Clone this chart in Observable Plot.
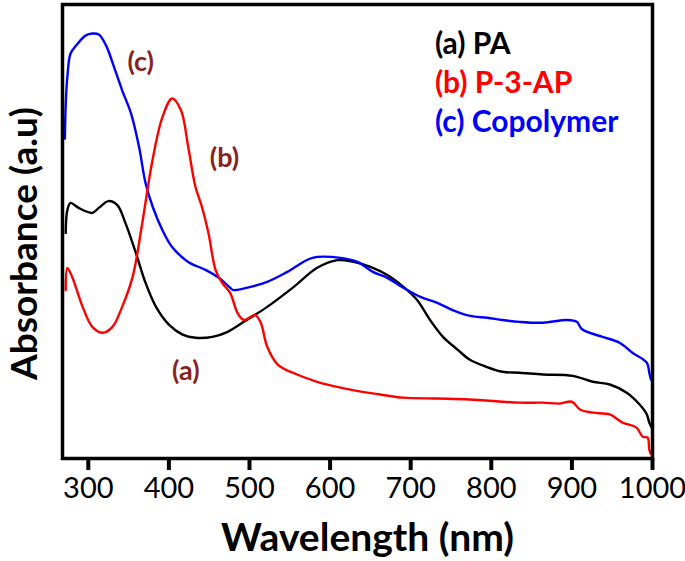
<!DOCTYPE html>
<html><head><meta charset="utf-8">
<script src="https://cdn.jsdelivr.net/npm/d3@7"></script>
<script src="https://cdn.jsdelivr.net/npm/@observablehq/plot@0.6"></script>
<style>html,body{margin:0;padding:0;background:#fff}#chart{width:685px;height:561px}</style>
</head><body><div id="chart"></div>
<script>
// ---- data ----
const xTicks = [300, 400, 500, 600, 700, 800, 900, 1000];
const xTitle = "Wavelength (nm)";
const yTitle = "Absorbance (a.u)";

const seriesKeys = ["(a) PA", "(b) P-3-AP", "(c) Copolymer"];
const seriesColors = ["#000000", "#ff0000", "#0000ff"];

const paWl = [272, 274, 278, 288, 305, 313, 325, 336, 346, 359, 371, 384, 400, 417, 433, 454, 473, 493, 522, 555, 584, 609, 629, 650, 671, 691, 708, 724, 740, 758, 773, 794, 814, 835, 864, 901, 926, 947, 968, 984, 993, 996, 999];
const paAbs = [49.7, 54.7, 56.3, 55.2, 54.1, 55.2, 56.7, 55.8, 51.9, 45.3, 38.7, 33.4, 29.5, 27.3, 26.6, 26.8, 27.9, 30.1, 33.4, 37.8, 42.0, 43.7, 43.3, 42.2, 40.4, 37.8, 34.9, 30.5, 26.8, 24.0, 21.8, 20.2, 19.1, 18.9, 18.5, 18.2, 16.9, 16.3, 14.5, 11.9, 9.7, 7.9, 6.8];

const p3apWl = [272, 274, 280, 293, 305, 318, 330, 342, 355, 367, 379, 392, 404, 415, 424, 433, 441, 449, 458, 466, 476, 485, 493, 507, 514, 522, 535, 559, 584, 613, 646, 662, 691, 733, 773, 835, 864, 885, 900, 910, 926, 947, 963, 980, 988, 994, 996, 998];
const p3apAbs = [37.1, 42.0, 40.0, 33.4, 29.0, 27.7, 29.0, 33.4, 40.0, 51.9, 65.1, 75.2, 79.3, 76.7, 68.6, 59.8, 55.4, 49.7, 41.5, 38.7, 36.5, 32.1, 30.5, 31.6, 29.9, 24.6, 20.7, 18.5, 16.9, 15.6, 14.5, 14.1, 13.4, 13.2, 13.0, 12.3, 12.3, 12.1, 12.5, 10.8, 10.1, 9.7, 7.9, 6.8, 4.8, 4.6, 2.0, 1.0];

const copoWl = [271, 272, 274, 278, 285, 297, 305, 313, 322, 332, 342, 353, 363, 371, 380, 392, 404, 424, 446, 462, 476, 480, 501, 522, 547, 578, 613, 634, 653, 671, 691, 712, 733, 752, 774, 795, 814, 835, 864, 894, 906, 913, 938, 959, 975, 993, 996, 998];
const copoAbs = [70.5, 78.0, 84.0, 89.2, 91.0, 93.2, 93.6, 93.4, 91.0, 86.2, 81.1, 76.0, 68.6, 60.7, 55.4, 50.3, 46.6, 43.3, 41.5, 39.8, 37.6, 37.1, 37.8, 38.9, 41.1, 44.2, 44.2, 43.3, 41.1, 39.8, 37.6, 35.6, 34.3, 32.7, 31.4, 31.0, 30.5, 30.1, 29.9, 30.5, 30.1, 28.4, 26.8, 25.5, 23.3, 21.1, 18.9, 17.4];

// legend (top right) positions in data units
const legendWl = [730, 730, 730];
const legendAbs = [91.2, 82.6, 74.0];

// curve annotations
const annoText = ["(c)", "(b)", "(a)"];
const annoWl = [365, 469, 421];
const annoAbs = [87.3, 66.2, 19.1];

// ---- build tables ----
const rows = [
  {key: seriesKeys[0], wl: paWl, abs: paAbs},
  {key: seriesKeys[1], wl: p3apWl, abs: p3apAbs},
  {key: seriesKeys[2], wl: copoWl, abs: copoAbs}
].flatMap(s => s.wl.map((w, i) => ({series: s.key, wl: w, abs: s.abs[i]})));
const drawOrder = [seriesKeys[0], seriesKeys[2], seriesKeys[1]];
const legend = seriesKeys.map((k, i) => ({label: k, wl: legendWl[i], abs: legendAbs[i]}));
const anno = annoText.map((t, i) => ({label: t, wl: annoWl[i], abs: annoAbs[i]}));

const chart = Plot.plot({
  width: 685,
  height: 561,
  marginLeft: 62,
  marginRight: 33,
  marginTop: 4,
  marginBottom: 103,
  style: {fontFamily: "Lato, 'Open Sans', sans-serif", fontSize: "29px", background: "#fff", color: "#000"},
  x: {domain: [268, 1000]},
  y: {domain: [0, 100], axis: null},
  color: {domain: seriesKeys, range: seriesColors},
  marks: [
    ...drawOrder.map(k => Plot.line(rows.filter(d => d.series === k), {
      x: "wl", y: "abs", stroke: "series", strokeWidth: 2.4, curve: "catmull-rom"
    })),
    Plot.frame({stroke: "#000", strokeWidth: 3.5}),
    Plot.axisX({ticks: xTicks, tickSize: 12, tickPadding: 7, strokeWidth: 4, label: null, tickFormat: d => String(d)}),
    Plot.text([xTitle], {frameAnchor: "bottom", dy: 92, dx: 10, lineAnchor: "bottom", textAnchor: "middle", fontSize: 39, fontWeight: "bold", fill: "#000"}),
    Plot.text([yTitle], {frameAnchor: "left", dx: -26, dy: 12, rotate: -90, lineAnchor: "bottom", textAnchor: "middle", fontSize: 37, fontWeight: "bold", fill: "#000"}),
    Plot.text(legend, {x: "wl", y: "abs", text: "label", fill: d => d.label, textAnchor: "start", lineAnchor: "middle", fontSize: 30, fontWeight: "bold"}),
    Plot.text(anno, {x: "wl", y: "abs", text: "label", fill: "#882222", textAnchor: "middle", lineAnchor: "middle", fontSize: 27, fontWeight: "bold"})
  ]
});
document.getElementById("chart").append(chart);
</script>
</body></html>
